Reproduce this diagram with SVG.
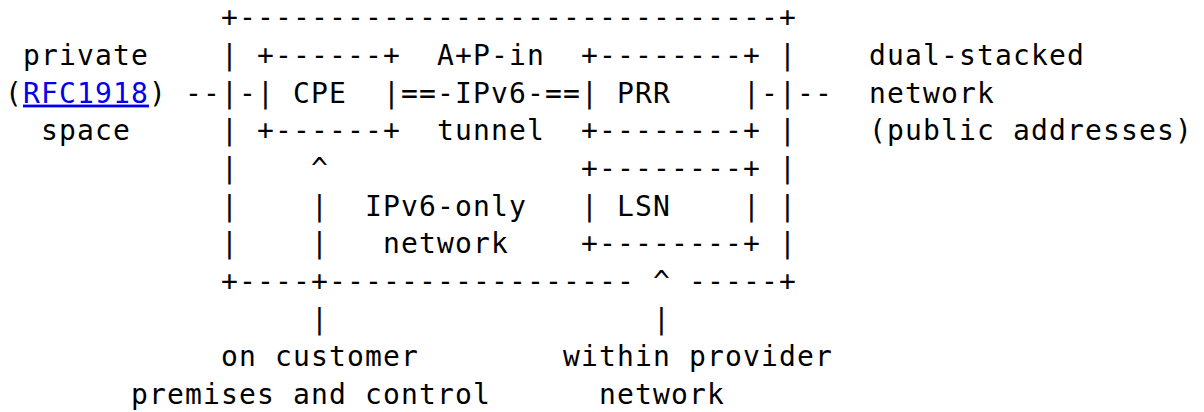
<svg xmlns="http://www.w3.org/2000/svg" width="1204" height="412" viewBox="0 0 1204 412" xml:space="preserve">
<style>
text{font-family:"DejaVu Sans Mono","Liberation Mono",monospace;font-size:28px;letter-spacing:1.14px;fill:#000;white-space:pre}
.link{fill:#0000ee;text-decoration:underline}
</style>
<rect x="0" y="0" width="1204" height="412" fill="#fff"/>
<g id="outer-box">
<text x="221" y="27.3">+------------------------------+</text>
<text x="221" y="65">|</text><text x="779" y="65">|</text>
<text x="221" y="102.6">|</text><text x="779" y="102.6">|</text>
<text x="221" y="140.3">|</text><text x="779" y="140.3">|</text>
<text x="221" y="178">|</text><text x="779" y="178">|</text>
<text x="221" y="215.7">|</text><text x="779" y="215.7">|</text>
<text x="221" y="253.3">|</text><text x="779" y="253.3">|</text>
<text x="221" y="291">+----+-----------------</text>
<text x="689" y="291">-----+</text>
</g>
<g id="cpe">
<text x="257" y="65">+------+</text>
<text x="257" y="102.6">| CPE  |</text>
<text x="257" y="140.3">+------+</text>
</g>
<g id="prr">
<text x="581" y="65">+--------+</text>
<text x="581" y="102.6">| PRR    |</text>
<text x="581" y="140.3">+--------+</text>
</g>
<g id="lsn">
<text x="581" y="178">+--------+</text>
<text x="581" y="215.7">| LSN    |</text>
<text x="581" y="253.3">+--------+</text>
</g>
<g id="label-private">
<text x="23" y="65">private</text>
<text x="5" y="102.6">(</text><text x="23" y="102.6" class="link">RFC1918</text><text x="149" y="102.6">)</text>
<text x="41" y="140.3">space</text>
</g>
<g id="label-dual-stacked">
<text x="869" y="65">dual-stacked</text>
<text x="869" y="102.6">network</text>
<text x="869" y="140.3">(public addresses)</text>
</g>
<g id="label-tunnel">
<text x="437" y="65">A+P-in</text>
<text x="437" y="140.3">tunnel</text>
</g>
<g id="label-ipv6-only">
<text x="365" y="215.7">IPv6-only</text>
<text x="383" y="253.3">network</text>
</g>
<g id="label-customer">
<text x="221" y="366.3">on customer</text>
<text x="131" y="404">premises and control</text>
</g>
<g id="label-provider">
<text x="563" y="366.3">within provider</text>
<text x="599" y="404">network</text>
</g>
<g id="connectors">
<text x="185" y="102.6">--</text>
<text x="239" y="102.6">-</text>
<text x="401" y="102.6">==-IPv6-==</text>
<text x="761" y="102.6">-</text>
<text x="797" y="102.6">--</text>
<text x="311" y="178">^</text>
<text x="311" y="215.7">|</text>
<text x="311" y="253.3">|</text>
<text x="311" y="328.7">|</text>
<text x="653" y="291">^</text>
<text x="653" y="328.7">|</text>
</g>
</svg>
